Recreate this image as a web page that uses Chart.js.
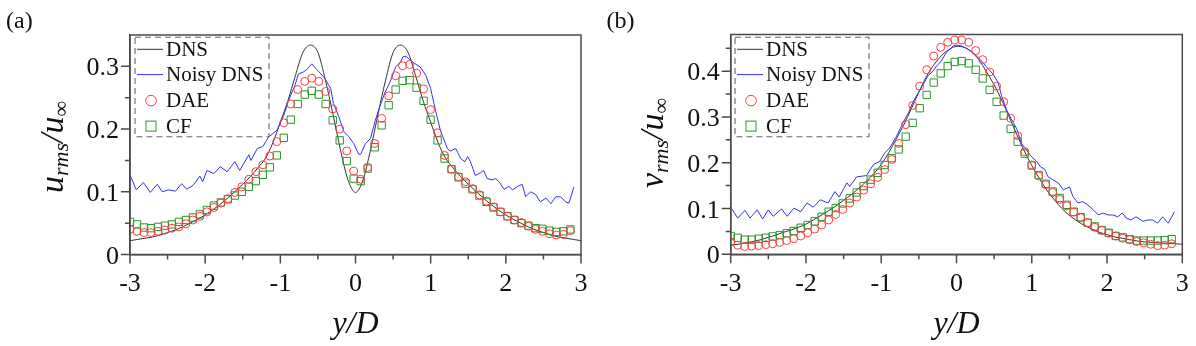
<!DOCTYPE html>
<html><head><meta charset="utf-8">
<script src="https://cdn.jsdelivr.net/npm/chart.js@4.4.0/dist/chart.umd.min.js"></script>
<style>
html,body{margin:0;padding:0;background:#fff;width:1196px;height:346px;overflow:hidden}
.c{position:absolute;top:0;width:598px;height:346px}
</style></head><body>
<div class="c" style="left:0"><canvas id="ca" width="598" height="346"></canvas></div>
<div class="c" style="left:598px"><canvas id="cb" width="598" height="346"></canvas></div>
<script>
// ---- data ----
const seriesNames = ['DNS','Noisy DNS','DAE','CF'];
const xTicks = [-3,-2,-1,0,1,2,3];
const xMinor = [-2.5,-1.5,-0.5,0.5,1.5,2.5];
const yTicksA = [0,0.1,0.2,0.3];
const yMinorA = [0.05,0.15,0.25];
const yTicksB = [0,0.1,0.2,0.3,0.4];
const yMinorB = [0.05,0.15,0.25,0.35,0.45];

const markerX = [-3,-2.907,-2.814,-2.721,-2.628,-2.535,-2.442,-2.349,-2.256,-2.163,-2.07,-1.977,-1.884,-1.791,-1.698,-1.605,-1.512,-1.419,-1.326,-1.233,-1.14,-1.047,-0.954,-0.861,-0.768,-0.675,-0.582,-0.489,-0.396,-0.303,-0.21,-0.117,-0.024,0.069,0.162,0.255,0.348,0.441,0.534,0.627,0.72,0.813,0.906,0.999,1.092,1.185,1.278,1.371,1.464,1.557,1.65,1.743,1.836,1.929,2.022,2.115,2.208,2.301,2.394,2.487,2.58,2.673,2.766,2.859];

const dnsX = [-3,-2.9,-2.8,-2.7,-2.6,-2.5,-2.4,-2.3,-2.2,-2.1,-2,-1.9,-1.8,-1.7,-1.6,-1.5,-1.4,-1.3,-1.2,-1.1,-1,-0.9,-0.8,-0.7,-0.6,-0.5,-0.4,-0.3,-0.2,-0.1,0,0.1,0.2,0.3,0.4,0.5,0.6,0.7,0.8,0.9,1,1.1,1.2,1.3,1.4,1.5,1.6,1.7,1.8,1.9,2,2.1,2.2,2.3,2.4,2.5,2.6,2.7,2.8,2.9,3];

// panel (a): u_rms
const dnsA = [0.022,0.024,0.026,0.028,0.031,0.035,0.039,0.044,0.050,0.056,0.063,0.071,0.080,0.090,0.101,0.112,0.124,0.138,0.153,0.178,0.211,0.245,0.285,0.322,0.334,0.322,0.278,0.224,0.167,0.119,0.099,0.119,0.167,0.224,0.278,0.322,0.334,0.322,0.285,0.245,0.211,0.178,0.153,0.138,0.124,0.112,0.101,0.090,0.080,0.071,0.063,0.056,0.050,0.044,0.039,0.035,0.031,0.028,0.026,0.024,0.022];
const noisyAX = [-3,-2.916,-2.823,-2.73,-2.637,-2.572,-2.489,-2.396,-2.312,-2.247,-2.163,-2.07,-2.033,-1.977,-1.884,-1.8,-1.707,-1.605,-1.54,-1.419,-1.391,-1.307,-1.233,-1.159,-1.047,-0.954,-0.889,-0.805,-0.759,-0.694,-0.647,-0.582,-0.517,-0.443,-0.405,-0.331,-0.294,-0.229,-0.154,-0.089,-0.024,0.041,0.069,0.134,0.199,0.264,0.329,0.395,0.46,0.534,0.599,0.636,0.683,0.729,0.794,0.86,0.934,0.999,1.064,1.129,1.222,1.259,1.334,1.399,1.455,1.492,1.529,1.594,1.659,1.706,1.752,1.817,1.864,1.91,1.976,2.041,2.087,2.152,2.217,2.264,2.329,2.394,2.459,2.534,2.599,2.664,2.729,2.794,2.84,2.906];
const noisyA = [0.127,0.103,0.115,0.099,0.112,0.100,0.103,0.101,0.113,0.104,0.110,0.125,0.116,0.134,0.129,0.140,0.132,0.148,0.134,0.159,0.150,0.169,0.172,0.187,0.198,0.222,0.246,0.270,0.288,0.291,0.295,0.304,0.295,0.286,0.280,0.265,0.241,0.222,0.196,0.188,0.177,0.160,0.160,0.177,0.185,0.214,0.238,0.259,0.275,0.299,0.307,0.316,0.315,0.310,0.304,0.299,0.286,0.265,0.230,0.198,0.169,0.165,0.169,0.153,0.148,0.156,0.148,0.126,0.130,0.134,0.121,0.119,0.121,0.116,0.104,0.109,0.103,0.108,0.112,0.092,0.100,0.096,0.084,0.090,0.081,0.092,0.092,0.084,0.082,0.108];
const daeA = [0.040,0.037,0.035,0.035,0.037,0.039,0.042,0.044,0.049,0.055,0.061,0.068,0.075,0.082,0.089,0.099,0.108,0.120,0.132,0.143,0.157,0.180,0.210,0.240,0.263,0.276,0.281,0.276,0.260,0.232,0.200,0.165,0.133,0.120,0.139,0.177,0.217,0.253,0.285,0.301,0.303,0.289,0.264,0.231,0.194,0.158,0.136,0.124,0.116,0.105,0.095,0.085,0.076,0.068,0.061,0.055,0.051,0.045,0.040,0.037,0.033,0.031,0.032,0.038];
const cfA = [0.052,0.048,0.043,0.042,0.044,0.046,0.048,0.052,0.055,0.059,0.064,0.071,0.078,0.083,0.088,0.094,0.100,0.108,0.117,0.127,0.139,0.158,0.186,0.215,0.240,0.255,0.261,0.255,0.240,0.214,0.182,0.149,0.121,0.117,0.137,0.171,0.206,0.238,0.263,0.277,0.278,0.266,0.245,0.215,0.182,0.153,0.136,0.123,0.113,0.104,0.094,0.084,0.075,0.068,0.061,0.055,0.050,0.046,0.042,0.041,0.038,0.036,0.037,0.040];

// panel (b): v_rms
const dnsB = [0.020,0.022,0.025,0.028,0.032,0.037,0.042,0.048,0.053,0.059,0.066,0.075,0.085,0.095,0.106,0.118,0.130,0.144,0.159,0.176,0.196,0.222,0.252,0.283,0.318,0.354,0.388,0.414,0.434,0.447,0.454,0.452,0.442,0.424,0.398,0.370,0.337,0.300,0.262,0.226,0.194,0.166,0.140,0.119,0.100,0.085,0.073,0.063,0.055,0.048,0.043,0.038,0.035,0.032,0.029,0.027,0.026,0.025,0.024,0.023,0.022];
const noisyBX = [-3,-2.907,-2.81,-2.744,-2.647,-2.576,-2.501,-2.435,-2.324,-2.249,-2.16,-2.07,-1.986,-1.903,-1.81,-1.707,-1.614,-1.559,-1.456,-1.419,-1.326,-1.196,-1.103,-1.019,-0.954,-0.889,-0.796,-0.712,-0.638,-0.582,-0.508,-0.443,-0.377,-0.312,-0.266,-0.201,-0.136,-0.043,0.004,0.069,0.153,0.218,0.311,0.395,0.488,0.553,0.599,0.664,0.729,0.804,0.86,0.925,0.99,1.064,1.111,1.176,1.213,1.278,1.352,1.418,1.501,1.548,1.613,1.678,1.743,1.817,1.883,1.948,2.013,2.078,2.143,2.203,2.255,2.32,2.385,2.478,2.543,2.608,2.673,2.738,2.813,2.896];
const noisyB = [0.103,0.079,0.096,0.079,0.097,0.077,0.097,0.083,0.099,0.083,0.101,0.093,0.112,0.103,0.119,0.112,0.137,0.125,0.156,0.148,0.169,0.172,0.196,0.203,0.221,0.232,0.258,0.287,0.309,0.331,0.353,0.371,0.390,0.400,0.411,0.422,0.441,0.455,0.457,0.455,0.448,0.441,0.426,0.410,0.393,0.375,0.346,0.316,0.295,0.273,0.243,0.229,0.214,0.203,0.192,0.185,0.170,0.163,0.156,0.141,0.147,0.126,0.112,0.115,0.108,0.097,0.086,0.090,0.086,0.086,0.082,0.090,0.079,0.075,0.082,0.072,0.075,0.075,0.068,0.082,0.068,0.093];
const daeB = [0.027,0.020,0.017,0.018,0.019,0.021,0.023,0.026,0.030,0.034,0.040,0.047,0.055,0.064,0.075,0.087,0.098,0.112,0.125,0.140,0.154,0.168,0.185,0.207,0.242,0.283,0.325,0.367,0.403,0.433,0.452,0.463,0.468,0.468,0.463,0.445,0.425,0.398,0.367,0.333,0.297,0.259,0.224,0.195,0.171,0.152,0.135,0.120,0.106,0.092,0.080,0.069,0.059,0.052,0.046,0.040,0.035,0.032,0.028,0.025,0.022,0.019,0.020,0.023];
const cfB = [0.040,0.036,0.032,0.032,0.034,0.036,0.039,0.042,0.046,0.051,0.058,0.064,0.072,0.082,0.093,0.101,0.111,0.122,0.135,0.149,0.163,0.178,0.195,0.210,0.229,0.257,0.287,0.319,0.348,0.375,0.395,0.411,0.420,0.422,0.417,0.403,0.384,0.359,0.333,0.303,0.274,0.246,0.220,0.194,0.173,0.154,0.137,0.123,0.108,0.093,0.081,0.069,0.061,0.053,0.047,0.040,0.037,0.033,0.030,0.030,0.030,0.030,0.031,0.033];

// ---- styling ----
const SERIF = "'Liberation Serif', 'Times New Roman', serif";
const AXIS = '#4a4a4a';
const BLACK = '#333333';
const BLUE = 'rgb(50,50,255)';
const RED = 'rgb(255,60,60)';
const GREEN = 'rgb(40,150,40)';
const TICK_FONT = '26px ' + SERIF;

function pts(xs, ys){ return xs.map((x,i)=>({x:x, y:ys[i]})); }

function makePanel(id, o){
  const deco = {
    id:'deco',
    afterDraw(ch){
      const ctx = ch.ctx, a = ch.chartArea, sx = ch.scales.x, sy = ch.scales.y;
      ctx.save();
      // frame
      ctx.strokeStyle = AXIS; ctx.lineWidth = 1.5; ctx.setLineDash([]);
      ctx.strokeRect(a.left, a.top, a.right-a.left, a.bottom-a.top);
      // major + minor ticks (outward), placed through the scales
      ctx.beginPath();
      xTicks.forEach(v=>{const p=sx.getPixelForValue(v); ctx.moveTo(p,a.bottom); ctx.lineTo(p,a.bottom+9);});
      xMinor.forEach(v=>{const p=sx.getPixelForValue(v); ctx.moveTo(p,a.bottom); ctx.lineTo(p,a.bottom+5);});
      o.yTicks.forEach(v=>{const p=sy.getPixelForValue(v); ctx.moveTo(a.left,p); ctx.lineTo(a.left-9,p);});
      o.yMinor.forEach(v=>{const p=sy.getPixelForValue(v); ctx.moveTo(a.left,p); ctx.lineTo(a.left-5,p);});
      ctx.stroke();
      // tick labels
      ctx.fillStyle = '#111'; ctx.font = TICK_FONT; ctx.textBaseline = 'alphabetic';
      ctx.textAlign = 'center';
      xTicks.forEach(v=>{ ctx.fillText(String(v), sx.getPixelForValue(v), a.bottom + 36.5); });
      ctx.textAlign = 'right';
      o.yTicks.forEach(v=>{ ctx.fillText(String(v), a.left - 11, sy.getPixelForValue(v) + 9); });
      // legend
      const lx = a.left + o.legDX, ly = o.legY, lw = 134, lh = 99.4;
      ctx.setLineDash([6,4]); ctx.strokeStyle = '#666'; ctx.lineWidth = 1.1;
      ctx.strokeRect(lx, ly, lw, lh);
      ctx.setLineDash([]);
      const rows = [12, 37.3, 63.3, 88.8];
      ctx.font = '21px ' + SERIF; ctx.fillStyle = '#111'; ctx.textBaseline = 'middle'; ctx.textAlign = 'left';
      ch.data.datasets.slice().sort((p,q)=>p.legendIndex-q.legendIndex).forEach((ds,i)=>{
        const yy = ly + rows[i];
        ctx.lineWidth = 1;
        if (ds.showLine){
          ctx.strokeStyle = ds.borderColor; ctx.beginPath(); ctx.moveTo(lx+2, yy); ctx.lineTo(lx+28, yy); ctx.stroke();
        } else if (ds.pointStyle === 'circle'){
          ctx.strokeStyle = ds.pointBorderColor; ctx.beginPath(); ctx.arc(lx+16, yy, 5.3, 0, Math.PI*2); ctx.stroke();
        } else {
          ctx.strokeStyle = ds.pointBorderColor; ctx.strokeRect(lx+11, yy-5, 10, 10);
        }
        ctx.fillText(ds.label, lx+31, yy+1);
      });
      // panel label
      ctx.font = '24px ' + SERIF; ctx.textBaseline = 'alphabetic'; ctx.fillStyle = '#111';
      ctx.fillText(o.panel, o.panelX, 28);
      // x title
      ctx.font = 'italic 32px ' + SERIF; ctx.textAlign = 'center';
      ctx.fillText('y/D', (a.left+a.right)/2, 333);
      // y title with subscripts
      const parts = [
        {t:o.yVar, f:'italic 34px '+SERIF, dy:0},
        {t:'rms', f:'italic 22px '+SERIF, dy:5},
        {t:'/', f:'italic 34px '+SERIF, dy:0},
        {t:'u', f:'italic 34px '+SERIF, dy:0},
        {t:'\u221E', f:'22px '+SERIF, dy:5}
      ];
      let total = 0;
      parts.forEach(p=>{ctx.font=p.f; p.w=ctx.measureText(p.t).width; total+=p.w;});
      ctx.translate(o.yTitleX, o.yTitleY); ctx.rotate(-Math.PI/2);
      ctx.textAlign = 'left';
      let cx = -total/2;
      parts.forEach(p=>{ctx.font=p.f; ctx.fillText(p.t, cx, p.dy); cx += p.w;});
      ctx.restore();
    }
  };
  return new Chart(document.getElementById(id), {
    type:'scatter',
    data:{datasets:[
      {label:seriesNames[2], legendIndex:2, data:pts(markerX,o.dae), showLine:false, pointStyle:'circle', pointRadius:4, pointBorderWidth:1, pointBorderColor:RED, pointBackgroundColor:'rgba(0,0,0,0)', order:0},
      {label:seriesNames[3], legendIndex:3, data:pts(markerX,o.cf), showLine:false, pointStyle:'rect', pointRadius:5.2, pointBorderWidth:1, pointBorderColor:GREEN, pointBackgroundColor:'rgba(0,0,0,0)', order:1},
      {label:seriesNames[1], legendIndex:1, data:pts(o.noisyX,o.noisy), showLine:true, pointRadius:0, borderColor:BLUE, borderWidth:1, tension:0, order:2},
      {label:seriesNames[0], legendIndex:0, data:pts(dnsX,o.dns), showLine:true, pointRadius:0, borderColor:BLACK, borderWidth:1, cubicInterpolationMode:'monotone', order:3}
    ]},
    options:{
      responsive:false, animation:false, devicePixelRatio:1,
      layout:{padding:{top:o.padTop, right:o.padRight, left:0, bottom:0}},
      plugins:{legend:{display:false}, tooltip:{enabled:false}},
      scales:{
        x:{type:'linear', min:-3, max:3,
          afterFit(s){ s.height = o.xAxisH; },
          afterBuildTicks(s){ s.ticks = xTicks.map(v=>({value:v})); },
          ticks:{display:false},
          grid:{display:false},
          border:{color:AXIS, width:1.5}
        },
        y:{type:'linear', min:0, max:o.yMax,
          afterFit(s){ s.width = o.yAxisW; },
          afterBuildTicks(s){ s.ticks = o.yTicks.map(v=>({value:v})); },
          ticks:{display:false},
          grid:{display:false},
          border:{color:AXIS, width:1.5}
        }
      }
    },
    plugins:[deco]
  });
}

makePanel('ca', {dns:dnsA, noisyX:noisyAX, noisy:noisyA, dae:daeA, cf:cfA, yMax:0.35, yTicks:yTicksA, yMinor:yMinorA,
  padTop:35, padRight:17, yAxisW:130, xAxisH:91.5, legDX:5, legY:37.3, panel:'(a)', panelX:6, yVar:'u', yTitleX:63, yTitleY:147});
makePanel('cb', {dns:dnsB, noisyX:noisyBX, noisy:noisyB, dae:daeB, cf:cfB, yMax:0.48, yTicks:yTicksB, yMinor:yMinorB,
  padTop:34.5, padRight:13.7, yAxisW:132.7, xAxisH:91.7, legDX:4.3, legY:37.3, panel:'(b)', panelX:8.5, yVar:'v', yTitleX:65, yTitleY:143});
</script>
</body></html>
